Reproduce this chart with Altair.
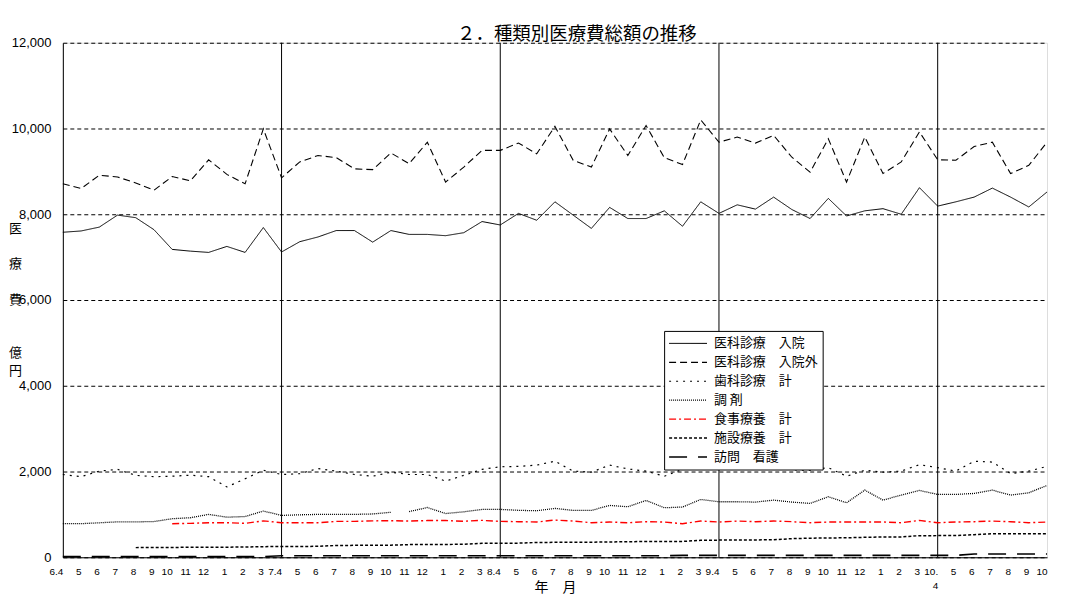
import json
import altair as alt
import pandas as pd

# ---- data -------------------------------------------------------------
month_labels = [
    "6.4", "5", "6", "7", "8", "9", "10", "11", "12", "1", "2", "3",
    "7.4", "5", "6", "7", "8", "9", "10", "11", "12", "1", "2", "3",
    "8.4", "5", "6", "7", "8", "9", "10", "11", "12", "1", "2", "3",
    "9.4", "5", "6", "7", "8", "9", "10", "11", "12", "1", "2", "3",
    "10.|4", "5", "6", "7", "8", "9", "10",
]
april_idx = [12, 24, 36, 48]
y_ticks = [0, 2000, 4000, 6000, 8000, 10000, 12000]

series_names = ["医科診療　入院", "医科診療　入院外", "歯科診療　計", "調 剤",
                "食事療養　計", "施設療養　計", "訪問　看護"]

nyuin = [7580, 7610, 7700, 7980, 7920, 7640, 7180, 7140, 7110, 7250, 7110, 7690,
         7120, 7360, 7470, 7620, 7620, 7350, 7620, 7530, 7530, 7500, 7570, 7830,
         7750, 8020, 7860, 8290, 7980, 7670, 8160, 7900, 7900, 8080, 7720, 8290,
         8020, 8220, 8120, 8400, 8110, 7900, 8370, 7960, 8080, 8130, 8000, 8620,
         8190, 8290, 8400, 8610, 8400, 8170, 8520]
gaiin = [8710, 8600, 8910, 8870, 8730, 8560, 8880, 8780, 9270, 8930, 8710, 9990,
         8850, 9220, 9370, 9320, 9060, 9040, 9430, 9180, 9680, 8750, 9100, 9490,
         9490, 9660, 9410, 10050, 9260, 9100, 9990, 9370, 10070, 9320, 9160, 10200,
         9680, 9800, 9660, 9840, 9330, 8980, 9760, 8750, 9800, 8950, 9220, 9920,
         9270, 9260, 9580, 9680, 8950, 9140, 9680]
shika = [1930, 1880, 2010, 2050, 1910, 1880, 1890, 1915, 1880, 1640, 1830, 2030,
         1930, 1950, 2070, 2010, 1930, 1890, 1985, 1930, 1930, 1775, 1910, 2050,
         2110, 2120, 2150, 2240, 2010, 1985, 2150, 2060, 2010, 1890, 2050, 2150,
         2120, 2130, 2150, 2100, 2040, 2030, 2090, 1890, 2030, 1985, 2010, 2160,
         2090, 2010, 2240, 2220, 1950, 2010, 2120]
chozai = [783, 783, 804, 826, 826, 833, 899, 922, 1000, 935, 950, 1078,
          977, 990, 1000, 1000, 1000, 1010, 1050, 1065, 1160, 1020, 1060, 1116,
          1116, 1095, 1085, 1140, 1093, 1093, 1209, 1178, 1326, 1155, 1171, 1349,
          1295, 1295, 1287, 1333, 1287, 1256, 1411, 1271, 1566, 1333, 1450, 1558,
          1466, 1466, 1489, 1566, 1450, 1504, 1675]
chozai_break_after = 18  # the line is interrupted between 7.10 and 7.11
shokuji = [None, None, None, None, None, None, 783, 791, 806, 806, 791, 849,
           806, 806, 806, 837, 837, 849, 853, 845, 856, 856, 840, 861,
           837, 830, 822, 868, 845, 806, 822, 806, 830, 822, 783, 845,
           822, 845, 830, 845, 830, 806, 822, 822, 822, 822, 806, 860,
           806, 822, 830, 845, 830, 806, 822]
shisetsu = [None, None, None, None, 225, 228, 230, 232, 234, 236, 238, 248,
            250, 252, 255, 275, 278, 280, 283, 295, 297, 300, 302, 326,
            328, 330, 345, 348, 350, 352, 357, 364, 366, 368, 370, 395,
            400, 403, 405, 408, 434, 445, 450, 455, 465, 473, 475, 504,
            505, 507, 527, 551, 551, 551, 551]
houmon = [16] * 12 + [35] * 22 + [45] * 16 + [77] * 5

series_values = [nyuin, gaiin, shika, chozai, shokuji, shisetsu, houmon]
series_colors = ["#000000", "#000000", "#000000", "#000000", "#ff0000", "#000000", "#000000"]
series_dashes = [[1, 0], [7, 4], [2, 5], [1, 1], [7, 3, 2, 3], [3, 2], [18, 11]]
series_widths = [1, 1.6, 1.2, 1, 1.5, 1, 4]

rows = []
for name, vals in zip(series_names, series_values):
    for i, v in enumerate(vals):
        if v is None:
            continue
        seg = 0
        if name == "調 剤" and i > chozai_break_after:
            seg = 1
        rows.append({"x": i, "v": v, "s": name, "key": f"{name}_{seg}"})
df = pd.DataFrame(rows)
april_df = pd.DataFrame({"x": april_idx})

# ---- chart ------------------------------------------------------------
JP = "Noto Sans CJK JP"
NUM = "Liberation Sans"
ZW = "\u200b"  # keeps blank lines of the vertical axis title

label_expr = "split(" + json.dumps(month_labels, ensure_ascii=False) + "[datum.value], '|')"
x_domain = list(range(len(month_labels)))
x_scale = alt.Scale(type="point", domain=x_domain, padding=0)

x_enc = alt.X(
    "x:O",
    scale=x_scale,
    sort=None,
    axis=alt.Axis(
        labelExpr=label_expr,
        labelFontSize=10, labelFont=NUM, labelColor="black", labelPadding=9,
        labelOverlap=False, labelAngle=0, labelLineHeight=14, labelBaseline="top",
        ticks=False, grid=False, domainColor="black",
        title="年　月", titleFont=JP, titleFontSize=14, titleFontWeight="normal",
        titleColor="black", titleBaseline="middle", titleY=30,
    ),
)
y_enc = alt.Y(
    "v:Q",
    scale=alt.Scale(domain=[0, 12000], nice=False),
    axis=alt.Axis(
        values=y_ticks, format=",d", labelFontSize=13, labelFont=NUM,
        labelColor="black", labelPadding=12, ticks=False, domainColor="black",
        grid=True, gridColor="black", gridDash=[4, 3], gridWidth=1, gridOpacity=1,
        title=["医", ZW, "療", ZW, "費", ZW, ZW, "億", "円"], titleAngle=0,
        titleAlign="center", titleBaseline="top", titleX=-48, titleY=180,
        titleFont=JP, titleFontSize=13, titleFontWeight="normal",
        titleLineHeight=17.8, titleColor="black",
    ),
)

leg = alt.Legend(
    orient="none", legendX=603, legendY=289, title=None, symbolType="stroke",
    symbolSize=1444, clipHeight=17, rowPadding=2, labelOffset=6,
    labelFontSize=13, labelFont=JP, labelColor="black", labelLimit=300,
    strokeColor="black", fillColor="white", padding=4,
)

lines = alt.Chart(df).mark_line(clip=False).encode(
    x=x_enc,
    y=y_enc,
    color=alt.Color("s:N", scale=alt.Scale(domain=series_names, range=series_colors), legend=leg),
    strokeDash=alt.StrokeDash("s:N", scale=alt.Scale(domain=series_names, range=series_dashes), legend=leg),
    strokeWidth=alt.StrokeWidth("s:N", scale=alt.Scale(domain=series_names, range=series_widths), legend=leg),
    detail="key:N",
)

rules = alt.Chart(april_df).mark_rule(color="black", strokeWidth=1).encode(
    x=alt.X("x:O", scale=x_scale, sort=None)
)

chart = alt.layer(rules, lines).properties(
    width=987, height=516,
    padding={"left": 55, "top": 34, "right": 10, "bottom": 40},
    autosize=alt.AutoSizeParams(type="none"),
    title=alt.Title(
        text="２．種類別医療費総額の推移", font=JP, fontSize=18.5, fontWeight="normal",
        color="black", anchor="middle", dx=22, dy=24, offset=2, baseline="alphabetic",
        frame="group",
    ),
).configure_view(stroke="black", strokeWidth=1).configure(background="white")

chart.save("out.html", embed_options={"renderer": "svg", "actions": False})
